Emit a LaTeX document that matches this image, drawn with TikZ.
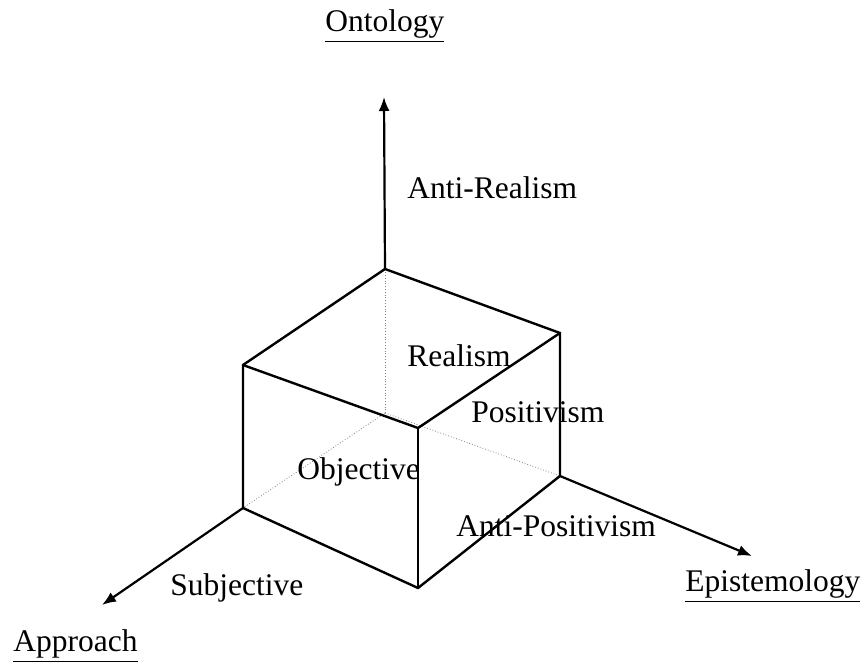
\documentclass[tikz,border=0pt]{standalone}
\usepackage{fontspec}
\setmainfont{Liberation Serif}
\usetikzlibrary{arrows.meta}

\begin{document}
\begin{tikzpicture}[x=0.5pt,y=-0.5pt,
  edge/.style={line width=1.2pt},
  hidden/.style={line width=0.4pt,densely dotted,gray},
  axis/.style={line width=1.1pt,-{Latex[length=7pt,width=5.5pt]}},
  lbl/.style={anchor=base west,inner sep=0pt,font=\fontsize{15.75}{18}\selectfont}]
\useasboundingbox (0,0) rectangle (864,663);
% corners of the box
\coordinate (O)   at (385,413);
\coordinate (T)   at (385,269);
\coordinate (FTL) at (243,365);
\coordinate (FBL) at (243,508);
\coordinate (FTN) at (418,428);
\coordinate (FBN) at (418,588);
\coordinate (BTR) at (560,333);
\coordinate (BBR) at (560,476);
% arrow ends
\coordinate (ont) at (384,97);
\coordinate (app) at (102,605);
\coordinate (epi) at (752,556);
% hidden edges
\draw[hidden] (O)--(T);
\draw[hidden] (O)--(FBL);
\draw[hidden] (O)--(BBR);
% visible edges
\draw[edge] (T)--(FTL)--(FBL)--(FBN)--(BBR)--(BTR)--cycle;
\draw[edge] (FTL)--(FTN)--(BTR);
\draw[edge] (FTN)--(FBN);
% axes
\draw[axis] (T)--(ont);
\draw[axis] (FBL)--(app);
\draw[axis] (BBR)--(epi);
% labels
\node[lbl] (ontology) at (325,32) {\underline{Ontology}};
\node[lbl] (antireal) at (407,199) {Anti-Realism};
\node[lbl] (realism) at (407,367) {Realism};
\node[lbl] (positiv) at (471,423) {Positivism};
\node[lbl] (objective) at (297,480) {Objective};
\node[lbl] (antipos) at (456,537) {Anti-Positivism};
\node[lbl] (subjective) at (170,596) {Subjective};
\node[lbl] (approach) at (13,652) {\underline{Approach}};
\node[lbl] (epistem) at (685,592) {\underline{Epistemology}};
\end{tikzpicture}
\end{document}
